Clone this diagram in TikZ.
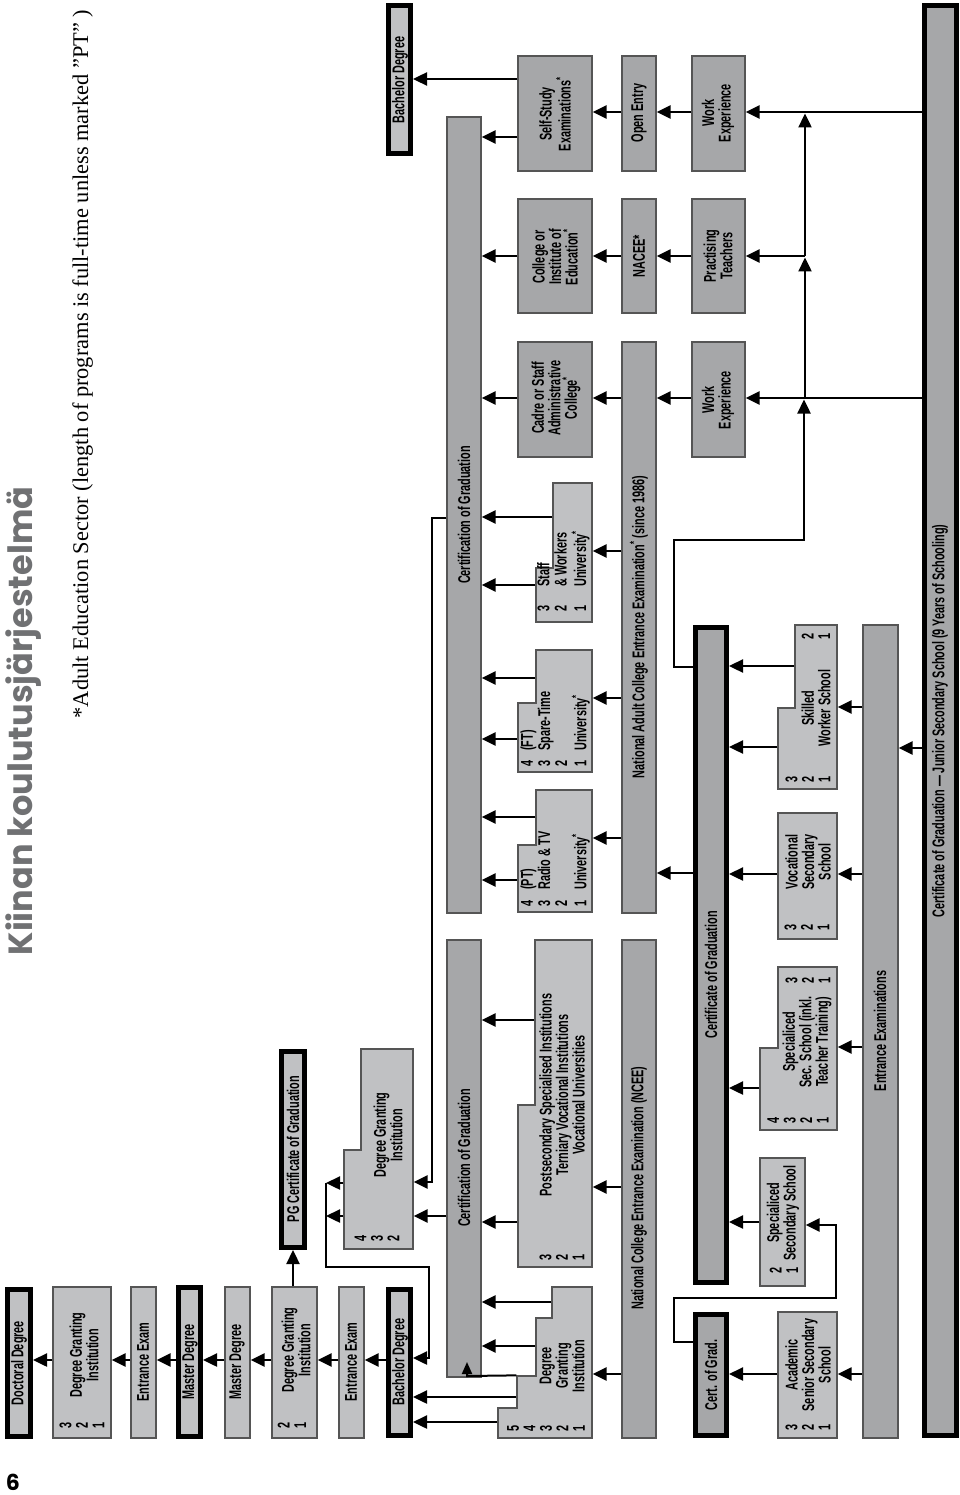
\documentclass[tikz,border=0pt]{standalone}
\usepackage{fontspec}
\setmainfont{Liberation Serif}
\newfontfamily\cond[FakeStretch=0.64]{Liberation Sans}
\newfontfamily\titlefont{Poppins}
\usetikzlibrary{arrows.meta,fit}
\definecolor{lightbox}{RGB}{192,193,195}
\definecolor{darkbox}{RGB}{166,167,169}
\definecolor{edgegray}{RGB}{85,85,85}
\definecolor{titlegray}{RGB}{112,113,115}
\begin{document}
\begin{tikzpicture}[x=1pt,y=-1pt,
  lbox/.style={draw=edgegray, line width=1.3pt, fill=lightbox, inner sep=0pt},
  dbox/.style={draw=edgegray, line width=1.3pt, fill=darkbox, inner sep=0pt},
  tbox/.style={draw=black, line width=5pt, fill=lightbox, inner sep=0pt},
  tdbox/.style={draw=black, line width=5pt, fill=darkbox, inner sep=0pt},
  part/.style={inner sep=0pt, outer sep=0.65pt},
  txt/.style={rotate=90, font=\cond\bfseries\fontsize{17}{16.5}\selectfont, align=center, inner sep=0pt},
  num/.style={rotate=90, font=\cond\bfseries\fontsize{17}{16.5}\selectfont, align=left, inner sep=0pt},
  arr/.style={line width=2.4pt, -{Triangle[length=14pt,width=13pt]}},
  smallarr/.style={line width=2pt, -{Triangle[length=12pt,width=10pt]}},
  ln/.style={line width=2.4pt},
]
\useasboundingbox (0,0) rectangle (960,1495);

% ---------- titles ----------
\node[rotate=90, anchor=base, font=\titlefont\bfseries\fontsize{33.5}{33.5}\selectfont, text=titlegray, inner sep=0pt] (title) at (32,721) {Kiinan koulutusjärjestelmä};
\node[rotate=90, anchor=base, font=\fontsize{22.4}{22.4}\selectfont, inner sep=0pt] (subtitle) at (88,364) {*Adult Education Sector (length of programs is full-time unless marked ”PT” )};
\node[anchor=base, font=\titlefont\bfseries\fontsize{22}{22}\selectfont, inner sep=0pt] (pagenum) at (13,1490) {6};

% ---------- graduate column ----------
\node[tbox, fit={(7.5,1289.5)(30.5,1436.5)}] (doc) {};
\node[lbox, fit={(53,1287)(111,1438)}] (dgi3) {};
\node[lbox, fit={(131,1287)(156,1438)}] (ee1) {};
\node[tbox, fit={(178.5,1287.5)(200.5,1436.5)}] (mdT) {};
\node[lbox, fit={(225,1287)(250,1438)}] (md) {};
\node[lbox, fit={(272,1287)(317,1438)}] (dgi2) {};
\node[tbox, fit={(281.5,1051.5)(304.5,1247.5)}] (pg) {};
\node[lbox, fit={(339,1287)(364,1438)}] (ee2) {};
\node[tbox, fit={(388.5,1289.5)(410.5,1435.5)}] (ba1) {};
\node[tbox, fit={(388.5,5.5)(410.5,153.5)}] (ba2) {};
\draw[lbox] (344,1249) -- (344,1150) -- (361,1150) -- (361,1049) -- (413,1049) -- (413,1249) -- cycle;
\node[part, fit={(344,1150)(413,1249)}] (dgi4) {};
\node[part, fit={(361,1049)(413,1150)}] (dgi4t) {};

% ---------- certification bars ----------
\node[dbox, fit={(447,940)(481,1377)}] (certL) {};
\node[dbox, fit={(447,117)(481,913)}] (certR) {};

% ---------- tertiary ----------
\draw[lbox] (592,1287) -- (552,1287) -- (552,1318) -- (536,1318) -- (536,1376) -- (517,1376) -- (517,1408) -- (498,1408) -- (498,1438) -- (592,1438) -- cycle;
\node[part, fit={(552,1287)(592,1318)}] (dgi5a) {};
\node[part, fit={(536,1318)(592,1376)}] (dgi5b) {};
\node[part, fit={(517,1376)(592,1408)}] (dgi5c) {};
\node[part, fit={(498,1408)(592,1438)}] (dgi5d) {};
\draw[lbox] (518,1267) -- (518,1105) -- (535,1105) -- (535,940) -- (592,940) -- (592,1267) -- cycle;
\node[part, fit={(535,940)(592,1105)}] (postn) {};
\node[part, fit={(518,1105)(592,1267)}] (postw) {};
\draw[lbox] (536,790) -- (592,790) -- (592,912) -- (518,912) -- (518,845) -- (536,845) -- cycle;
\node[part, fit={(536,790)(592,845)}] (radion) {};
\node[part, fit={(518,845)(592,912)}] (radiow) {};
\draw[lbox] (536,650) -- (592,650) -- (592,772) -- (518,772) -- (518,703) -- (536,703) -- cycle;
\node[part, fit={(536,650)(592,703)}] (sparen) {};
\node[part, fit={(518,703)(592,772)}] (sparew) {};
\draw[lbox] (553,483) -- (592,483) -- (592,622) -- (536,622) -- (536,568) -- (553,568) -- cycle;
\node[part, fit={(553,483)(592,568)}] (staffn) {};
\node[part, fit={(536,568)(592,622)}] (staffw) {};
\node[dbox, fit={(518,342)(592,457)}] (cadre) {};
\node[dbox, fit={(518,199)(592,313)}] (college) {};
\node[dbox, fit={(518,56)(592,171)}] (self) {};

% ---------- entrance level ----------
\node[dbox, fit={(622,940)(656,1438)}] (ncee) {};
\node[dbox, fit={(622,342)(656,913)}] (nacee) {};
\node[dbox, fit={(622,199)(656,313)}] (nacees) {};
\node[dbox, fit={(622,56)(656,171)}] (open) {};
\node[dbox, fit={(692,56)(745,171)}] (we1) {};
\node[dbox, fit={(692,199)(745,313)}] (pt) {};
\node[dbox, fit={(692,342)(745,457)}] (we2) {};

% ---------- senior secondary ----------
\node[tdbox, fit={(695.5,627.5)(726.5,1282.5)}] (certT) {};
\node[tdbox, fit={(695.5,1314.5)(726.5,1435.5)}] (cog) {};
\draw[lbox] (795,625) -- (837,625) -- (837,789) -- (778,789) -- (778,708) -- (795,708) -- cycle;
\node[part, fit={(795,625)(837,708)}] (skilledn) {};
\node[part, fit={(778,708)(837,789)}] (skilledw) {};
\node[lbox, fit={(778,813)(837,939)}] (voc) {};
\draw[lbox] (778,967) -- (837,967) -- (837,1130) -- (760,1130) -- (760,1048) -- (778,1048) -- cycle;
\node[part, fit={(778,967)(837,1048)}] (spec4n) {};
\node[part, fit={(760,1048)(837,1130)}] (spec4w) {};
\node[lbox, fit={(760,1158)(805,1286)}] (specsec) {};
\node[lbox, fit={(778,1312)(837,1438)}] (acad) {};
\node[dbox, fit={(863,625)(898,1438)}] (entr) {};
\node[tdbox, fit={(924.5,5.5)(956.5,1435.5)}] (big) {};

% ---------- texts ----------
\node[txt] (tdoc) at (19,1363) {Doctoral Degree};
\node[num, anchor=west] (ndgi3) at (82,1429) {3\\2\\1};
\node[txt] (tdgi3) at (84,1355) {Degree Granting\\Institution};
\node[txt] (tee1) at (143,1362) {Entrance Exam};
\node[txt] (tmdT) at (190,1362) {Master Degree};
\node[txt] (tmd) at (237,1362) {Master Degree};
\node[num, anchor=west] (ndgi2) at (292,1429) {2\\1};
\node[txt] (tdgi2) at (296,1350) {Degree Granting\\Institution};
\node[txt] (tpg) at (293,1149) {PG Certificate of Graduation};
\node[txt] (tee2) at (351,1362) {Entrance Exam};
\node[txt] (tba1) at (400,1362) {Bachelor Degree};
\node[txt] (tba2) at (400,80) {Bachelor Degree};
\node[num, anchor=west] (ndgi4) at (377,1242) {4\\3\\2};
\node[txt] (tdgi4) at (388,1135) {Degree Granting\\Institution};
\node[txt] (tcertL) at (464,1158) {Certification of Graduation};
\node[txt] (tcertR) at (464,515) {Certification of Graduation};
\node[num, anchor=west] (ndgi5) at (546,1432) {5\\4\\3\\2\\1};
\node[txt] (tdgi5) at (562,1366) {Degree\\Granting\\Institution};
\node[num, anchor=west] (npost) at (562,1261) {3\\2\\1};
\node[txt] (tpost) at (562,1095) {Postsecondary Specialised Institutions\\Terniary Vocational Institutions\\Vocational Universities};
\node[num, anchor=west] (tradio) at (556,907) {\begin{tabular}{@{}l@{\hspace{11pt}}l@{}}4&(PT)\\3&Radio \& TV\\2&\\1&University\textsuperscript{*}\end{tabular}};
\node[num, anchor=west] (tspare) at (556,767) {\begin{tabular}{@{}l@{\hspace{10pt}}l@{}}4&(FT)\\3&Spare-Time\\2&\\1&University\textsuperscript{*}\end{tabular}};
\node[num, anchor=west] (tstaff) at (564,612) {\begin{tabular}{@{}l@{\hspace{19pt}}l@{}}3&Staff\\2&\& Workers\\1&University\textsuperscript{*}\end{tabular}};
\node[txt] (tcadre) at (556,398) {Cadre or Staff\\Administrative\\College\textsuperscript{*}};
\node[txt] (tcollege) at (555,257) {College or\\Institute of\\Education\textsuperscript{*}};
\node[txt] (tself) at (555,114) {Self-Study\\Examinations\textsuperscript{*}};
\node[txt] (tncee) at (639,1188) {National College Entrance Examination (NCEE)};
\node[txt] (tnacee) at (639,627) {National Adult College Entrance Examination\textsuperscript{*} (since 1986)};
\node[txt] (tnacees) at (639,256) {NACEE*};
\node[txt] (topen) at (639,113) {Open Entry};
\node[txt] (twe1) at (718,113) {Work\\Experience};
\node[txt] (tpt) at (718,256) {Practising\\Teachers};
\node[txt] (twe2) at (718,400) {Work\\Experience};
\node[txt] (tcertT) at (711,975) {Certificate of Graduation};
\node[txt] (tcog) at (711,1375) {Cert. of Grad.};
\node[num, anchor=west] (nsk1) at (808,783) {3\\2\\1};
\node[num, anchor=east] (nsk2) at (816,633) {2\\1};
\node[txt] (tsk) at (816,708) {Skilled\\Worker School};
\node[num, anchor=west] (nvoc) at (807,931) {3\\2\\1};
\node[txt] (tvoc) at (808,862) {Vocational\\Secondary\\School};
\node[num, anchor=west] (nsp1) at (798,1124) {4\\3\\2\\1};
\node[num, anchor=east] (nsp2) at (808,977) {3\\2\\1};
\node[txt] (tsp) at (807,1042) {Specialiced\\Sec. School (inkl.\\Teacher Training)};
\node[num, anchor=west] (nss) at (784,1274) {2\\1};
\node[txt] (tss) at (783,1213) {Specialiced\\Secondary School};
\node[num, anchor=west] (nac) at (808,1431) {3\\2\\1};
\node[txt] (tac) at (808,1365) {Academic\\Senior Secondary\\School};
\node[txt] (tentr) at (880,1031) {Entrance Examinations};
\node[txt] (tbig) at (940,721) {Certificate of Graduation — Junior Secondary School (9 Years of Schooling)};

% ---------- connectors: graduate ----------
\draw[arr] (dgi3.west |- 0,1360) -- (doc.east |- 0,1360);
\draw[arr] (ee1.west |- 0,1360) -- (dgi3.east |- 0,1360);
\draw[arr] (mdT.west |- 0,1360) -- (ee1.east |- 0,1360);
\draw[arr] (md.west |- 0,1360) -- (mdT.east |- 0,1360);
\draw[arr] (dgi2.west |- 0,1360) -- (md.east |- 0,1360);
\draw[arr] (ee2.west |- 0,1360) -- (dgi2.east |- 0,1360);
\draw[arr] (ba1.west |- 0,1360) -- (ee2.east |- 0,1360);
\draw[arr] (dgi2.north -| 293,0) -- (pg.south -| 293,0);

\coordinate (bkA) at (326,1183);
\coordinate (bkB) at (326,1267);
\coordinate (bkC) at (429,1267);
\coordinate (bkD) at (429,1358);
\draw[arr] (dgi4.west |- bkA) -- (bkA);
\draw[arr] (dgi4.west |- 0,1216) -- (bkA |- 0,1216);
\draw[arr] (bkA) -- (bkB) -- (bkC) -- (bkD) -- (ba1.east |- bkD);

\coordinate (crA) at (432,518);
\draw[arr] (certR.west |- crA) -- (crA) -- (crA |- 0,1182) -- (dgi4.east |- 0,1182);
\draw[arr] (certL.west |- 0,1216) -- (dgi4.east |- 0,1216);
\draw[arr] (self.west |- 0,79) -- (ba2.east |- 0,79);

% ---------- connectors: adult ----------
\draw[arr] (self.west |- 0,137) -- (certR.east |- 0,137);
\draw[arr] (college.west |- 0,256) -- (certR.east |- 0,256);
\draw[arr] (cadre.west |- 0,398) -- (certR.east |- 0,398);
\draw[arr] (staffn.west |- 0,517) -- (certR.east |- 0,517);
\draw[arr] (staffw.west |- 0,585) -- (certR.east |- 0,585);
\draw[arr] (sparen.west |- 0,678) -- (certR.east |- 0,678);
\draw[arr] (sparew.west |- 0,739) -- (certR.east |- 0,739);
\draw[arr] (radion.west |- 0,817) -- (certR.east |- 0,817);
\draw[arr] (radiow.west |- 0,880) -- (certR.east |- 0,880);
\draw[arr] (open.west |- 0,112) -- (self.east |- 0,112);
\draw[arr] (nacees.west |- 0,256) -- (college.east |- 0,256);
\draw[arr] (nacee.west |- 0,398) -- (cadre.east |- 0,398);
\draw[arr] (nacee.west |- 0,551) -- (staffn.east |- 0,551);
\draw[arr] (nacee.west |- 0,698) -- (sparen.east |- 0,698);
\draw[arr] (nacee.west |- 0,838) -- (radion.east |- 0,838);
\draw[arr] (we1.west |- 0,112) -- (open.east |- 0,112);
\draw[arr] (pt.west |- 0,256) -- (nacees.east |- 0,256);
\draw[arr] (we2.west |- 0,398) -- (nacee.east |- 0,398);
\draw[arr] (big.west |- 0,112) -- (we1.east |- 0,112);
\draw[arr] (big.west |- 0,398) -- (we2.east |- 0,398);

\coordinate (vA) at (674,667);
\coordinate (vB) at (674,540);
\coordinate (vC) at (804,540);
\coordinate (vD) at (805,398);
\coordinate (vE) at (805,256);
\draw[arr] (certT.west |- vA) -- (vA) -- (vB) -- (vC) -- (vC |- 0,399.5);
\draw[arr] (vD) -- (vD |- 0,257.5);
\draw[arr] (vE) -- (vE |- 0,113.5);
\draw[arr] (vE) -- (pt.east |- vE);
\draw[arr] (certT.west |- 0,873) -- (nacee.east |- 0,873);

% ---------- connectors: tertiary ----------
\draw[arr] (postn.west |- 0,1020) -- (certL.east |- 0,1020);
\draw[arr] (postw.west |- 0,1222) -- (certL.east |- 0,1222);
\draw[arr] (dgi5a.west |- 0,1302) -- (certL.east |- 0,1302);
\draw[arr] (dgi5b.west |- 0,1346) -- (certL.east |- 0,1346);
\draw[arr] (dgi5c.west |- 0,1397) -- (ba1.east |- 0,1397);
\draw[arr] (dgi5d.west |- 0,1422) -- (ba1.east |- 0,1422);
\coordinate (sm) at (467,1376);
\draw[smallarr] (dgi5c.north west) -- (sm) -- (sm |- 0,1362);
\draw[arr] (ncee.west |- 0,1187) -- (postw.east |- 0,1187);
\draw[arr] (ncee.west |- 0,1374) -- (dgi5b.east |- 0,1374);

% ---------- connectors: secondary ----------
\coordinate (cA) at (674,1342);
\coordinate (cB) at (674,1298);
\coordinate (cC) at (836,1298);
\draw[arr] (cog.west |- cA) -- (cA) -- (cB) -- (cC) -- (cC |- 0,1225) -- (specsec.east |- 0,1225);
\draw[arr] (specsec.west |- 0,1222) -- (certT.east |- 0,1222);
\draw[arr] (spec4w.west |- 0,1088) -- (certT.east |- 0,1088);
\draw[arr] (acad.west |- 0,1374) -- (cog.east |- 0,1374);
\draw[arr] (voc.west |- 0,874) -- (certT.east |- 0,874);
\draw[arr] (skilledn.west |- 0,666) -- (certT.east |- 0,666);
\draw[arr] (skilledw.west |- 0,747) -- (certT.east |- 0,747);
\draw[arr] (entr.west |- 0,1374) -- (acad.east |- 0,1374);
\draw[arr] (entr.west |- 0,1047) -- (spec4n.east |- 0,1047);
\draw[arr] (entr.west |- 0,874) -- (voc.east |- 0,874);
\draw[arr] (entr.west |- 0,707) -- (skilledw.east |- 0,707);
\draw[arr] (big.west |- 0,748) -- (entr.east |- 0,748);
\end{tikzpicture}
\end{document}
